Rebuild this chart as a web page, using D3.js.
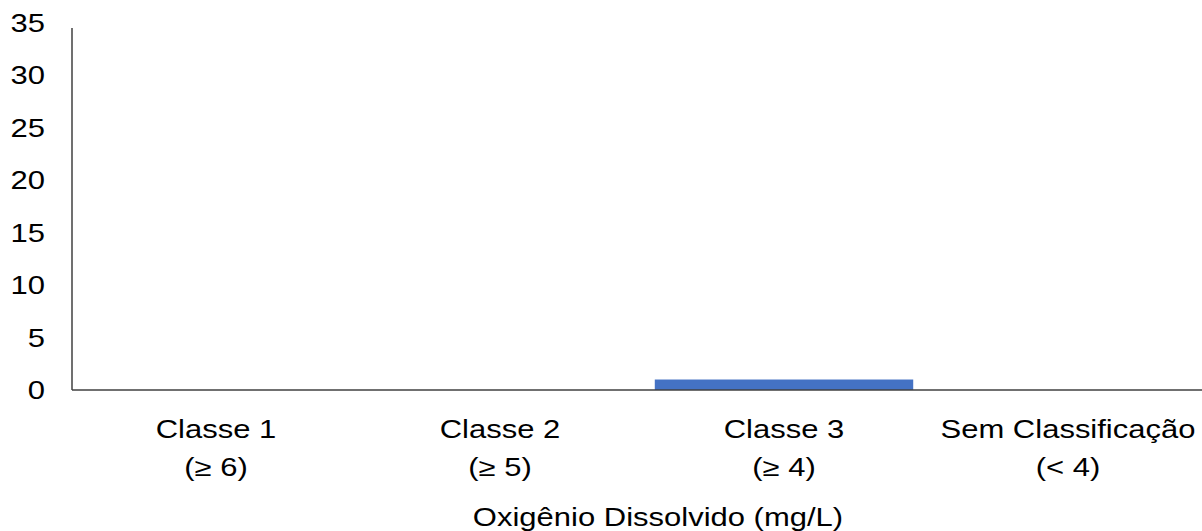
<!DOCTYPE html>
<html lang="pt">
<head>
    <meta charset="UTF-8">
    <title>Oxigênio Dissolvido</title>
    <script src="https://d3js.org/d3.v7.min.js"></script>
    <style>
        body { margin: 0; background: #fff; }
        text { font-family: "Liberation Sans", Arial, sans-serif; fill: #000; }
    </style>
</head>
<body>
    <div id="chart"></div>

    <script>
        // Data
        const categories = ["Classe 1", "Classe 2", "Classe 3", "Sem Classificação"];
        const subLabels = ["(≥ 6)", "(≥ 5)", "(≥ 4)", "(< 4)"];
        const values = [0, 0, 1, 0];
        const yTicks = [0, 5, 10, 15, 20, 25, 30, 35];
        const xTitle = "Oxigênio Dissolvido (mg/L)";

        const W = 1202, H = 531;
        const fontSize = 25, stretch = 1.24;   // picture is stretched horizontally

        const svg = d3.select("#chart").append("svg")
            .attr("width", W)
            .attr("height", H);

        // Scales
        const x = d3.scaleBand()
            .domain(categories)
            .range([74, 1210])
            .paddingInner(0.09)
            .paddingOuter(0.045);

        const y = d3.scaleLinear()
            .domain([0, 35])
            .range([390, 23]);

        // Bars
        svg.selectAll("rect.bar")
            .data(values)
            .enter()
            .append("rect")
            .attr("class", "bar")
            .attr("x", (d, i) => x(categories[i]))
            .attr("width", x.bandwidth())
            .attr("y", d => y(d))
            .attr("height", d => y(0) - y(d))
            .attr("fill", "#4472C4");

        // Y axis line
        svg.append("line")
            .attr("x1", 72).attr("x2", 72)
            .attr("y1", y(35) + 5).attr("y2", y(0))
            .attr("stroke", "#404040")
            .attr("stroke-width", 1.5);

        // Baseline
        svg.append("line")
            .attr("x1", 72).attr("x2", W)
            .attr("y1", y(0)).attr("y2", y(0))
            .attr("stroke", "#404040")
            .attr("stroke-width", 1.5);

        // Y tick labels
        svg.selectAll("text.ytick")
            .data(yTicks)
            .enter()
            .append("text")
            .attr("class", "ytick")
            .attr("transform", d => `translate(45,${y(d) + 9}) scale(${stretch},1)`)
            .attr("text-anchor", "end")
            .style("font-size", fontSize + "px")
            .text(d => d);

        // Category labels (two lines)
        const cat = svg.selectAll("g.cat")
            .data(categories)
            .enter()
            .append("g")
            .attr("class", "cat")
            .attr("transform", d => `translate(${x(d) + x.bandwidth() / 2},0)`);

        cat.append("text")
            .attr("transform", `translate(0,438) scale(${stretch},1)`)
            .attr("text-anchor", "middle")
            .style("font-size", fontSize + "px")
            .text(d => d);

        cat.append("text")
            .attr("transform", `translate(0,476) scale(${stretch},1)`)
            .attr("text-anchor", "middle")
            .style("font-size", fontSize + "px")
            .text((d, i) => subLabels[i]);

        // Axis title
        svg.append("text")
            .attr("transform", `translate(658,526) scale(${stretch},1)`)
            .attr("text-anchor", "middle")
            .style("font-size", fontSize + "px")
            .text(xTitle);
    </script>
</body>
</html>
